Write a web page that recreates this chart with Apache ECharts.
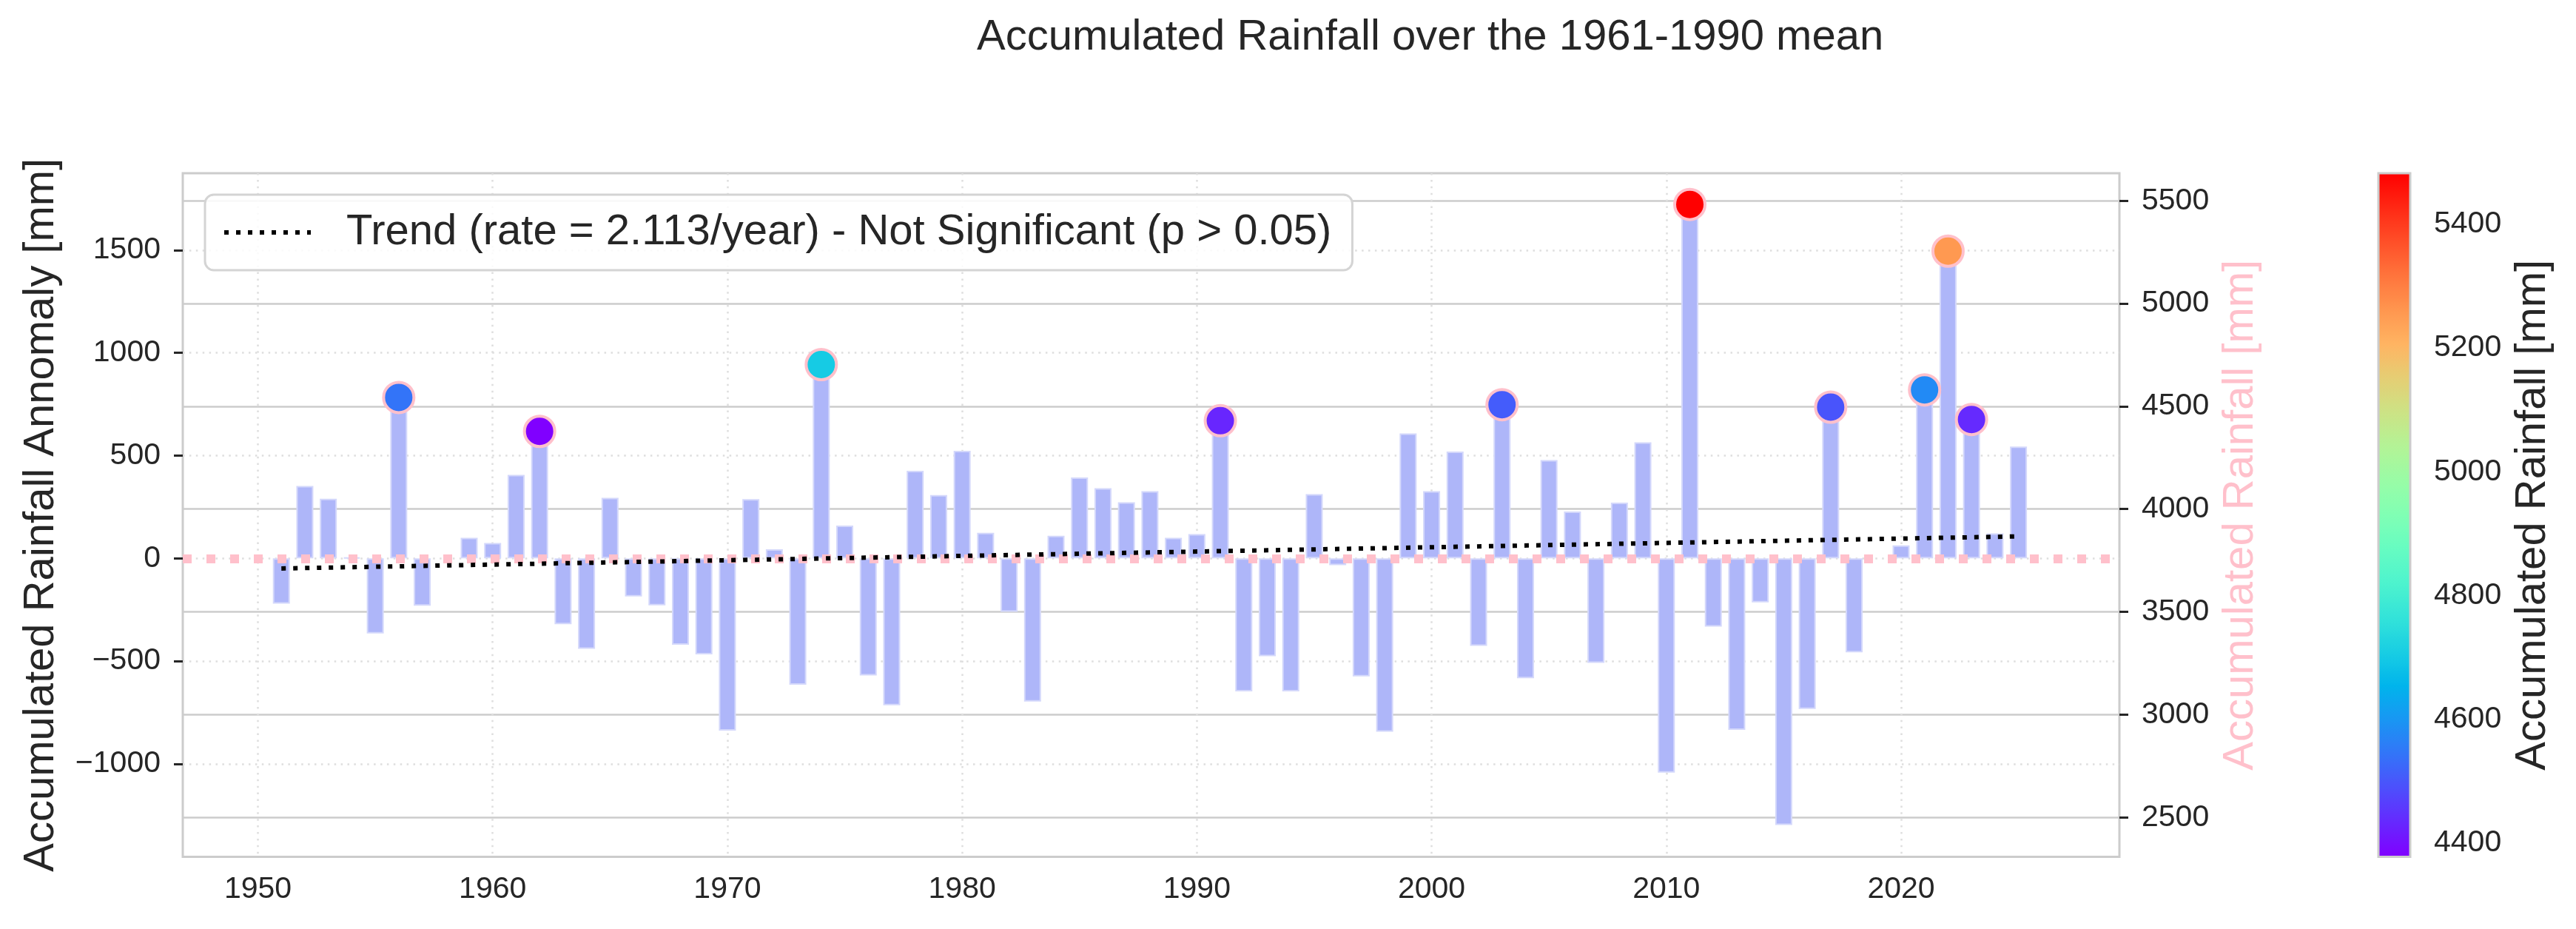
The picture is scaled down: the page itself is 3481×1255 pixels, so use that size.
<!DOCTYPE html>
<html>
<head>
<meta charset="utf-8">
<script src="https://cdn.jsdelivr.net/npm/echarts@6/dist/echarts.min.js"></script>
<style>html,body{margin:0;padding:0;background:#fff}#c{width:3481px;height:1255px}</style>
</head>
<body>
<div id="c"></div>
<script>
// ---------------- data ----------------
const years = [1951,1952,1953,1954,1955,1956,1957,1958,1959,1960,
  1961,1962,1963,1964,1965,1966,1967,1968,1969,1970,
  1971,1972,1973,1974,1975,1976,1977,1978,1979,1980,
  1981,1982,1983,1984,1985,1986,1987,1988,1989,1990,
  1991,1992,1993,1994,1995,1996,1997,1998,1999,2000,
  2001,2002,2003,2004,2005,2006,2007,2008,2009,2010,
  2011,2012,2013,2014,2015,2016,2017,2018,2019,2020,
  2021,2022,2023,2024,2025];
const anomalies = [-220,352,290,5,-365,783,-230,null,100,75,
  406,620,-320,-440,295,-185,-228,-420,-467,-838,
  288,44,-615,943,160,-570,-715,426,308,523,
  125,-260,-697,110,394,342,273,327,100,118,
  670,-647,-476,-647,313,-33,-574,-843,608,327,
  520,-426,748,-583,478,228,-508,271,565,-1042,
  1722,-332,-834,-214,-1297,-733,736,-457,null,63,
  820,1495,676,122,544];
const highlightYears  = [1956,1962,1974,1991,2003,2011,2017,2021,2022,2023];
const highlightTotals = [4543,4378,4703,4430,4508,5482,4496,4580,5255,4436];
const trendYears  = [1951, 2025];
const trendValues = [-49, 107];
const xTicks     = [1950,1960,1970,1980,1990,2000,2010,2020];
const leftTicks  = [-1000,-500,0,500,1000,1500];
const rightTicks = [2500,3000,3500,4000,4500,5000,5500];
const cbTicks    = [4400,4600,4800,5000,5200,5400];
const trendName = 'Trend (rate = 2.113/year) - Not Significant (p > 0.05)';

// ---------------- style ----------------
const FONT = '"Liberation Sans", Arial, sans-serif';
const TXT = '#262626';
const fmt = v => String(v).replace('-', '\u2212');
// matplotlib "rainbow" colormap sampled as colour stops
const rainbowStops = [];
for (let k = 0; k <= 20; k++) {
  const x = k / 20;
  const r = Math.min(1, Math.abs(2 * x - 0.5));
  const g = Math.sin(Math.PI * x);
  const b = Math.cos(Math.PI * x / 2);
  rainbowStops.push('rgb(' + Math.round(r*255) + ',' + Math.round(g*255) + ',' + Math.round(b*255) + ')');
}
const cbMin = Math.min.apply(null, highlightTotals);
const cbMax = Math.max.apply(null, highlightTotals);
const dotted = {color:'#dedede', width:2.5, type:[2.5,6.4]};

const chart = echarts.init(document.getElementById('c'), null, {renderer:'canvas'});
chart.setOption({
  animation:false,
  backgroundColor:'#ffffff',
  textStyle:{fontFamily:FONT},
  title:{
    text:'Accumulated Rainfall over the 1961-1990 mean',
    left:1320, top:22, padding:0,
    textStyle:{fontSize:58, fontWeight:'normal', color:TXT, fontFamily:FONT, lineHeight:58}
  },
  legend:{
    data:[trendName], left:277, top:263, selectedMode:false,
    itemWidth:117, itemHeight:20,
    padding:[21,28,21,23],
    itemStyle:{opacity:0},
    lineStyle:{color:'#000000', width:6, type:[6,10], opacity:1},
    backgroundColor:'rgba(255,255,255,0.85)', borderColor:'#d4d4d4', borderWidth:3, borderRadius:12,
    textStyle:{fontSize:58, color:TXT, fontFamily:FONT, lineHeight:60, padding:[0,0,0,43]}
  },
  grid:[
    {left:247, top:234, width:2617, height:923.5, show:true, borderColor:'#cccccc', borderWidth:3, backgroundColor:'transparent'},
    {left:3214, top:234, width:43, height:923.5, show:true, borderColor:'#cccccc', borderWidth:3, backgroundColor:'transparent', z:10}
  ],
  xAxis:[
    {type:'value', gridIndex:0, min:1946.8, max:2029.3,
     axisLine:{show:false}, axisTick:{show:false, customValues:xTicks},
     axisLabel:{customValues:xTicks, fontSize:41, color:TXT, margin:24, fontFamily:FONT, formatter:fmt},
     splitLine:{show:true, lineStyle:dotted}},
    {type:'value', gridIndex:1, min:0, max:1, show:false}
  ],
  yAxis:[
    {type:'value', gridIndex:0, position:'left', min:-1452, max:1874,
     axisLine:{show:false},
     axisTick:{show:true, length:12, customValues:leftTicks, lineStyle:{color:TXT, width:3}},
     axisLabel:{customValues:leftTicks, fontSize:41, color:TXT, margin:30, formatter:fmt, fontFamily:FONT},
     splitLine:{show:true, lineStyle:dotted},
     name:'Accumulated Rainfall Annomaly [mm]', nameLocation:'middle', nameRotate:90, nameGap:162,
     nameTextStyle:{fontSize:58, color:TXT, fontFamily:FONT}},
    {type:'value', gridIndex:0, position:'right', min:2308, max:5634,
     axisLine:{show:false},
     axisTick:{show:true, length:12, customValues:rightTicks, lineStyle:{color:TXT, width:3}},
     axisLabel:{customValues:rightTicks, fontSize:41, color:TXT, margin:30, fontFamily:FONT, formatter:fmt},
     splitLine:{show:true, lineStyle:{color:'#cccccc', width:2.5, type:'solid'}},
     name:'Accumulated Rainfall [mm]', nameLocation:'middle', nameRotate:90, nameGap:135,
     nameTextStyle:{fontSize:58, color:'#ffc0cb', fontFamily:FONT}},
    {type:'value', gridIndex:1, position:'right', min:cbMin, max:cbMax,
     axisLine:{show:false},
     axisTick:{show:true, length:14, customValues:cbTicks, lineStyle:{color:TXT, width:3}},
     axisLabel:{customValues:cbTicks, fontSize:41, color:TXT, margin:32, fontFamily:FONT, formatter:fmt},
     splitLine:{show:false},
     name:'Accumulated Rainfall [mm]', nameLocation:'middle', nameRotate:90, nameGap:137,
     nameTextStyle:{fontSize:58, color:TXT, fontFamily:FONT}}
  ],
  visualMap:{
    type:'continuous', show:true, seriesIndex:2, dimension:1,
    min:cbMin, max:cbMax, inRange:{color:rainbowStops},
    orient:'vertical', left:3214, top:234, itemWidth:43, itemHeight:923.5,
    padding:0, calculable:false, hoverLink:false, text:null, showLabel:false
  },
  series:[
    {type:'bar', xAxisIndex:0, yAxisIndex:0, barWidth:23,
     data: years.map((y,i) => [y, anomalies[i] === null ? '-' : anomalies[i]]),
     itemStyle:{color:'#aeb6f9', borderColor:'#d4d8fb', borderWidth:2},
     z:2,
     markLine:{silent:true, symbol:['none','none'], label:{show:false},
       lineStyle:{color:'#ffc0cb', width:12, type:[12,20]},
       emphasis:{disabled:true},
       data:[{yAxis:0}]}
    },
    {type:'line', name:trendName, xAxisIndex:0, yAxisIndex:0,
     data: trendYears.map((y,i) => [y, trendValues[i]]),
     symbol:'none', lineStyle:{color:'#000000', width:6, type:[6,10]}, itemStyle:{color:'#000000'}, z:6},
    {type:'scatter', xAxisIndex:0, yAxisIndex:1,
     data: highlightYears.map((y,i) => [y, highlightTotals[i]]),
     symbolSize:41, itemStyle:{borderColor:'#ffc0cb', borderWidth:4, opacity:1}, z:7}
  ]
});
</script>
</body>
</html>
